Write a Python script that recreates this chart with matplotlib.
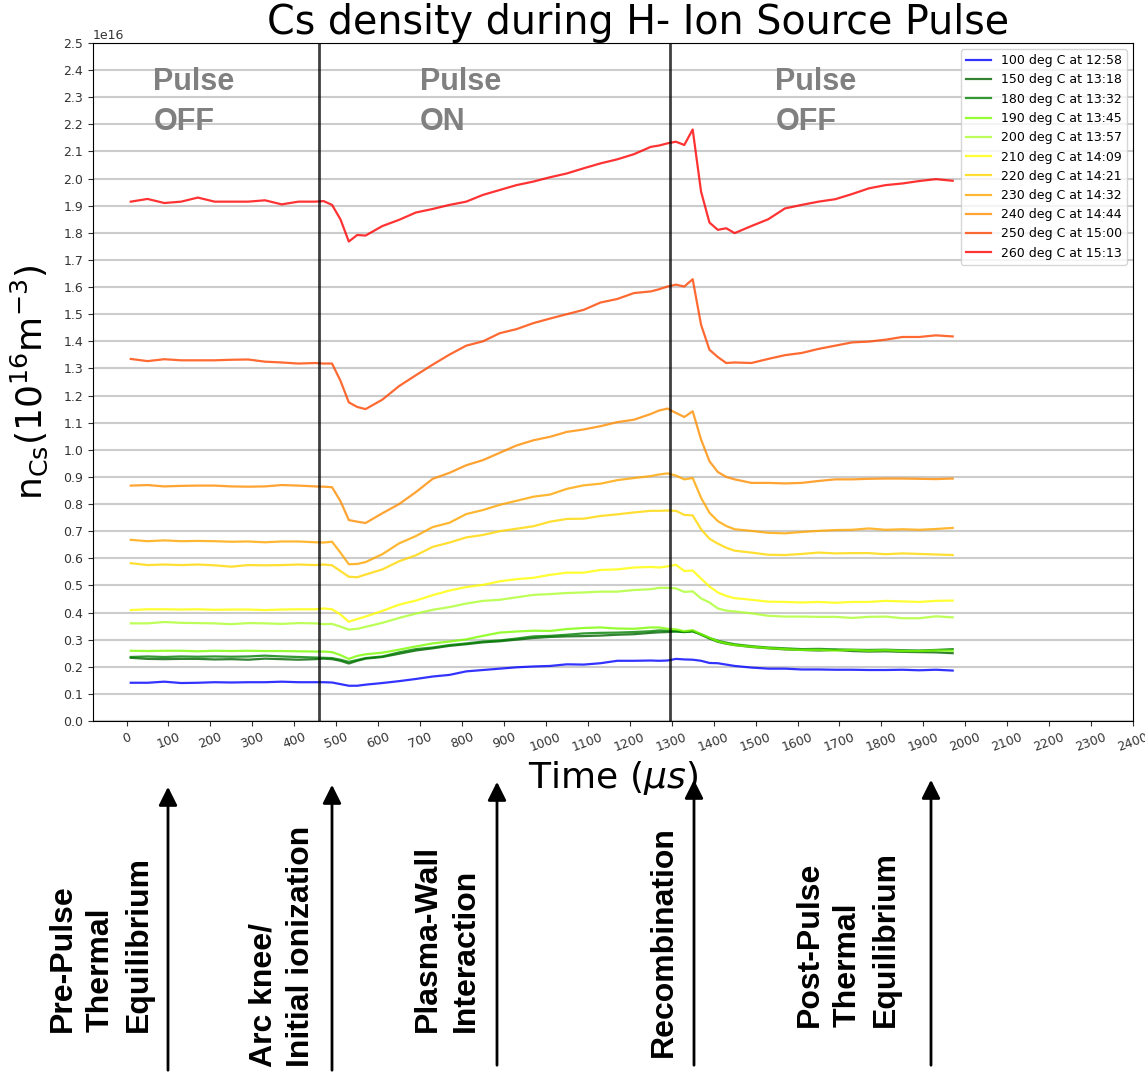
import matplotlib
matplotlib.use("Agg")
import matplotlib.pyplot as plt
from matplotlib.ticker import MultipleLocator
import numpy as np

# time axis (us) and Cs density in units of 1e16 m^-3
t_us = [10, 50, 90, 130, 170, 210, 250, 290, 330, 370, 410, 450,
        470, 490, 510, 530, 550, 570,
        610, 650, 690, 730, 770, 810, 850, 890, 930, 970, 1010, 1050, 1090, 1130, 1170, 1210, 1250,
        1270, 1290, 1310, 1330, 1350, 1370, 1390, 1410, 1430, 1450,
        1490, 1530, 1570, 1610, 1650, 1690, 1730, 1770, 1810, 1850, 1890, 1930, 1970]

n100 = [0.141, 0.141, 0.145, 0.140, 0.141, 0.143, 0.142, 0.143, 0.143, 0.145, 0.143, 0.143,
        0.143, 0.142, 0.136, 0.130, 0.130, 0.134,
        0.140, 0.147, 0.155, 0.164, 0.170, 0.183, 0.188, 0.193, 0.198, 0.201, 0.203, 0.209, 0.208, 0.213, 0.222, 0.222, 0.223,
        0.222, 0.223, 0.229, 0.227, 0.226, 0.222, 0.214, 0.213, 0.208, 0.203,
        0.197, 0.193, 0.193, 0.190, 0.190, 0.189, 0.189, 0.188, 0.188, 0.189, 0.187, 0.189, 0.186]
n150 = [0.233, 0.229, 0.228, 0.229, 0.229, 0.227, 0.228, 0.226, 0.230, 0.228, 0.226, 0.228,
        0.230, 0.228, 0.222, 0.212, 0.222, 0.230,
        0.236, 0.248, 0.260, 0.268, 0.277, 0.283, 0.290, 0.294, 0.300, 0.306, 0.310, 0.312, 0.313, 0.315, 0.318, 0.320, 0.325,
        0.327, 0.328, 0.330, 0.328, 0.332, 0.318, 0.304, 0.292, 0.285, 0.280,
        0.273, 0.268, 0.264, 0.262, 0.260, 0.262, 0.258, 0.256, 0.257, 0.255, 0.254, 0.253, 0.250]
n180 = [0.236, 0.238, 0.236, 0.238, 0.237, 0.238, 0.237, 0.238, 0.241, 0.238, 0.236, 0.234,
        0.233, 0.232, 0.226, 0.218, 0.225, 0.232,
        0.238, 0.253, 0.265, 0.271, 0.280, 0.286, 0.293, 0.297, 0.304, 0.312, 0.314, 0.318, 0.323, 0.325, 0.326, 0.328, 0.331,
        0.334, 0.333, 0.331, 0.328, 0.330, 0.320, 0.306, 0.296, 0.289, 0.283,
        0.276, 0.271, 0.268, 0.265, 0.266, 0.264, 0.263, 0.262, 0.263, 0.261, 0.260, 0.262, 0.265]
n190 = [0.259, 0.258, 0.259, 0.259, 0.257, 0.259, 0.258, 0.259, 0.258, 0.258, 0.257, 0.256,
        0.256, 0.254, 0.243, 0.229, 0.240, 0.246,
        0.252, 0.263, 0.275, 0.286, 0.293, 0.301, 0.314, 0.326, 0.330, 0.333, 0.332, 0.339, 0.343, 0.345, 0.341, 0.340, 0.345,
        0.345, 0.340, 0.338, 0.331, 0.335, 0.320, 0.307, 0.294, 0.286, 0.280,
        0.274, 0.269, 0.265, 0.262, 0.262, 0.260, 0.262, 0.259, 0.261, 0.258, 0.258, 0.260, 0.259]
n200 = [0.360, 0.360, 0.365, 0.362, 0.361, 0.360, 0.357, 0.361, 0.360, 0.358, 0.361, 0.360,
        0.357, 0.358, 0.348, 0.337, 0.340, 0.347,
        0.362, 0.380, 0.396, 0.410, 0.420, 0.433, 0.443, 0.447, 0.456, 0.465, 0.468, 0.472, 0.474, 0.477, 0.477, 0.483, 0.486,
        0.491, 0.491, 0.489, 0.476, 0.478, 0.452, 0.437, 0.415, 0.407, 0.404,
        0.397, 0.388, 0.385, 0.385, 0.384, 0.384, 0.380, 0.384, 0.385, 0.379, 0.379, 0.386, 0.382]
n210 = [0.409, 0.412, 0.412, 0.411, 0.412, 0.410, 0.411, 0.411, 0.409, 0.411, 0.412, 0.412,
        0.415, 0.412, 0.393, 0.366, 0.376, 0.385,
        0.406, 0.429, 0.444, 0.464, 0.481, 0.494, 0.502, 0.515, 0.523, 0.528, 0.539, 0.547, 0.547, 0.557, 0.559, 0.566, 0.568,
        0.566, 0.570, 0.576, 0.553, 0.555, 0.525, 0.496, 0.474, 0.461, 0.453,
        0.447, 0.440, 0.439, 0.437, 0.439, 0.436, 0.439, 0.439, 0.443, 0.441, 0.439, 0.443, 0.444]
n220 = [0.582, 0.575, 0.577, 0.575, 0.577, 0.574, 0.569, 0.575, 0.574, 0.575, 0.577, 0.575,
        0.577, 0.574, 0.553, 0.532, 0.530, 0.540,
        0.559, 0.589, 0.611, 0.642, 0.658, 0.677, 0.686, 0.700, 0.709, 0.718, 0.735, 0.745, 0.746, 0.756, 0.762, 0.769, 0.775,
        0.775, 0.776, 0.775, 0.760, 0.758, 0.707, 0.672, 0.654, 0.639, 0.628,
        0.621, 0.613, 0.612, 0.616, 0.621, 0.618, 0.619, 0.619, 0.615, 0.618, 0.616, 0.614, 0.612]
n230 = [0.668, 0.663, 0.666, 0.663, 0.664, 0.663, 0.661, 0.662, 0.659, 0.662, 0.662, 0.659,
        0.658, 0.661, 0.621, 0.578, 0.579, 0.586,
        0.615, 0.655, 0.682, 0.715, 0.731, 0.763, 0.778, 0.797, 0.812, 0.827, 0.835, 0.856, 0.869, 0.875, 0.888, 0.896, 0.903,
        0.909, 0.913, 0.905, 0.891, 0.896, 0.823, 0.768, 0.737, 0.719, 0.707,
        0.701, 0.694, 0.692, 0.697, 0.701, 0.704, 0.705, 0.710, 0.705, 0.707, 0.705, 0.708, 0.712]
n240 = [0.868, 0.870, 0.865, 0.867, 0.868, 0.868, 0.865, 0.864, 0.865, 0.870, 0.868, 0.865,
        0.864, 0.862, 0.811, 0.741, 0.735, 0.730,
        0.766, 0.800, 0.844, 0.893, 0.915, 0.943, 0.962, 0.989, 1.016, 1.035, 1.048, 1.066, 1.075, 1.087, 1.102, 1.111, 1.132,
        1.145, 1.152, 1.136, 1.121, 1.142, 1.038, 0.958, 0.918, 0.900, 0.891,
        0.878, 0.878, 0.876, 0.878, 0.885, 0.891, 0.891, 0.893, 0.894, 0.894, 0.893, 0.892, 0.894]
n250 = [1.335, 1.327, 1.334, 1.330, 1.330, 1.330, 1.332, 1.333, 1.325, 1.322, 1.318, 1.320,
        1.318, 1.318, 1.255, 1.175, 1.158, 1.150,
        1.185, 1.235, 1.275, 1.314, 1.351, 1.384, 1.400, 1.430, 1.445, 1.467, 1.484, 1.500, 1.516, 1.543, 1.556, 1.578, 1.584,
        1.592, 1.602, 1.609, 1.602, 1.629, 1.461, 1.369, 1.342, 1.320, 1.322,
        1.320, 1.335, 1.349, 1.357, 1.372, 1.384, 1.396, 1.399, 1.406, 1.416, 1.416, 1.422, 1.418]
n260 = [1.915, 1.925, 1.910, 1.915, 1.930, 1.915, 1.915, 1.915, 1.920, 1.905, 1.915, 1.915,
        1.917, 1.903, 1.850, 1.768, 1.792, 1.790,
        1.825, 1.848, 1.875, 1.888, 1.903, 1.915, 1.940, 1.958, 1.976, 1.989, 2.005, 2.019, 2.038, 2.056, 2.071, 2.090, 2.117,
        2.122, 2.130, 2.136, 2.124, 2.181, 1.952, 1.838, 1.811, 1.817, 1.799,
        1.825, 1.850, 1.890, 1.903, 1.915, 1.924, 1.943, 1.964, 1.976, 1.982, 1.991, 1.998, 1.992]

series = [n100, n150, n180, n190, n200, n210, n220, n230, n240, n250, n260]
labels = ["100 deg C at 12:58", "150 deg C at 13:18", "180 deg C at 13:32",
          "190 deg C at 13:45", "200 deg C at 13:57", "210 deg C at 14:09",
          "220 deg C at 14:21", "230 deg C at 14:32", "240 deg C at 14:44",
          "250 deg C at 15:00", "260 deg C at 15:13"]
colors = ["blue", "darkgreen", "green", "lawngreen", "greenyellow", "yellow",
          "gold", "orange", "darkorange", "orangered", "red"]

pulse_on, pulse_off = 460, 1295

phases = ["Pre-Pulse\nThermal\nEquilibrium", "Arc knee/\nInitial ionization",
          "Plasma-Wall\nInteraction", "Recombination",
          "Post-Pulse\nThermal\nEquilibrium"]

fig = plt.figure(figsize=(11.45, 10.73), dpi=100)
ax = fig.add_axes([93/1145, 1 - 721/1073, 1040/1145, 678/1073])

t = np.array(t_us)
for vals, lab, col in zip(series, labels, colors):
    ax.plot(t, np.array(vals) * 1e16, color=col, alpha=0.8, lw=1.6, label=lab)

ax.axvline(pulse_on, color="black", lw=2, alpha=0.75)
ax.axvline(pulse_off, color="black", lw=2, alpha=0.75)

ax.set_xlim(-80, 2400)
ax.set_ylim(0, 2.5e16)
ax.xaxis.set_major_locator(MultipleLocator(100))
ax.yaxis.set_major_locator(MultipleLocator(1e15))
ax.grid(axis="y", color="#cccccc", lw=1.5)
ax.set_axisbelow(True)
ax.tick_params(axis="both", labelsize=9, colors="#333333")
plt.setp(ax.get_xticklabels(), rotation=20)
ax.yaxis.get_offset_text().set_fontsize(9)

ax.set_title("Cs density during H- Ion Source Pulse", fontsize=28.5, x=0.524, pad=5)
ax.set_xlabel(r"Time ($\mu s$)", fontsize=26)
ax.xaxis.set_label_coords(0.5, -0.056)
ax.set_ylabel(r"n$_{\rm Cs}$(10$^{16}$m$^{-3}$)", fontsize=26)
ax.yaxis.set_label_coords(-0.041, 0.5)

ax.legend(loc="upper right", fontsize=9, labelspacing=0.5)

for x, txt in [(64, "Pulse\nOFF"), (700, "Pulse\nON"), (1547, "Pulse\nOFF")]:
    ax.text(x, 2.41e16, txt, fontsize=22, fontweight="bold", color="gray",
            family="Liberation Sans", ha="left", va="top", linespacing=1.4)

# phase annotations below the plot (figure pixel positions)
arrow_x = [168, 332, 497, 694, 931]
arrow_top = [784, 782, 779, 777, 777]
arrow_bot = [1073, 1073, 1068, 1068, 1068]
text_left = [48, 248, 413, 649, 795]
text_bot = [1032, 1067, 1032, 1057, 1027]
for ax_x, top, bot in zip(arrow_x, arrow_top, arrow_bot):
    ax.annotate("", xy=(ax_x, 1073 - top), xytext=(ax_x, 1073 - bot),
                xycoords="figure pixels", textcoords="figure pixels",
                arrowprops=dict(arrowstyle="-|>", color="black", lw=2, mutation_scale=28))
for lx, by, txt in zip(text_left, text_bot, phases):
    fig.text(lx / 1145, 1 - by / 1073, txt, rotation=90, ha="left", va="bottom",
             multialignment="left", fontsize=23, fontweight="bold",
             family="Liberation Sans", linespacing=1.35)

fig.savefig("out.png", dpi=100)
